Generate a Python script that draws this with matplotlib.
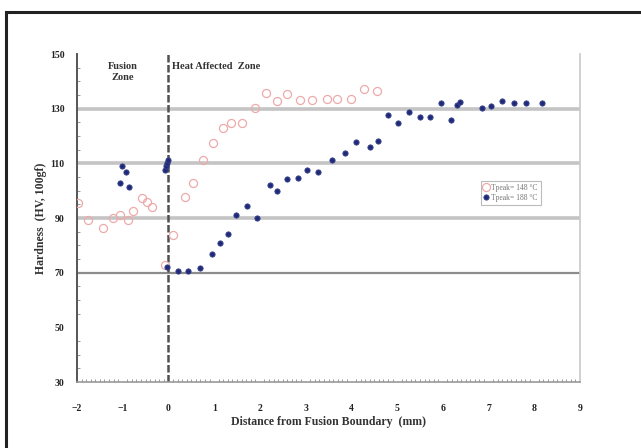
import matplotlib
matplotlib.use("Agg")
import matplotlib.pyplot as plt
from matplotlib.patches import Rectangle
from matplotlib.ticker import MultipleLocator

# --- data ---
red_x = [-1.98, -1.76, -1.43, -1.21, -1.06, -0.89, -0.78, -0.58, -0.47, -0.36,
         -0.08, 0.10, 0.36, 0.53, 0.75, 0.97, 1.19, 1.36, 1.60, 1.89,
         2.13, 2.37, 2.60, 2.87, 3.15, 3.46, 3.68, 4.00, 4.27, 4.55]
red_y = [95.5, 89.3, 86.3, 90.0, 91.1, 89.3, 92.5, 97.3, 95.9, 94.0,
         72.8, 83.8, 97.7, 102.8, 111.2, 117.4, 122.9, 124.8, 124.8, 130.3,
         135.7, 132.8, 135.4, 133.2, 133.2, 133.6, 133.6, 133.6, 137.2, 136.5]

blue_x = [-1.06, -0.86, -1.02, -0.93, -0.08, -0.06, -0.03, -0.01,
          -0.03, 0.21, 0.42, 0.69, 0.95, 1.12, 1.30, 1.47, 1.71, 1.93,
          2.21, 2.37, 2.59, 2.83, 3.02, 3.26, 3.57, 3.87, 4.11, 4.40, 4.59,
          4.81, 5.03, 5.27, 5.51, 5.73, 5.95, 6.17, 6.32, 6.38,
          6.86, 7.06, 7.30, 7.56, 7.83, 8.17]
blue_y = [102.8, 101.3, 109.0, 106.8, 107.6, 109.0, 110.1, 111.2,
          72.1, 70.6, 70.6, 71.7, 76.8, 80.9, 84.2, 91.1, 94.4, 90.0,
          102.1, 99.9, 104.3, 104.6, 107.6, 106.8, 111.2, 113.8, 117.8, 116.0, 118.2,
          127.7, 124.8, 128.8, 127.0, 127.0, 132.1, 125.9, 131.4, 132.5,
          130.3, 131.0, 132.8, 132.1, 132.1, 132.1]

series_labels = ["Tpeak= 148 \u00b0C", "Tpeak= 188 \u00b0C"]
x_ticks = list(range(-2, 10))
y_ticks = list(range(30, 151, 20))
grid_levels = [70, 90, 110, 130]
zone_labels = ["Fusion\nZone", "Heat Affected  Zone"]
x_label = "Distance from Fusion Boundary  (mm)"
y_label = "Hardness  (HV, 100gf)"

serif = ["Liberation Serif", "DejaVu Serif"]

fig = plt.figure(figsize=(6.41, 4.48), dpi=100)
ax = fig.add_axes([77/641, 1-382/448, (580-77)/641, (382-54)/448])

ax.set_xlim(-2, 9)
ax.set_ylim(30, 150)

for g in grid_levels:
    if g == 70:
        ax.axhline(g, color="#8c8c8c", lw=1.6, zorder=1)
    else:
        ax.axhline(g, color="#c4c4c4", lw=2.6, zorder=1)

ax.axvline(0, color="#505050", lw=1.8, ls=(0, (3, 1)), zorder=2)

ax.plot(red_x, red_y, ls="none", marker="o", ms=5.8, mfc="none",
        mec="#eeaaaa", mew=0.9, label=series_labels[0], zorder=3)
ax.plot(blue_x, blue_y, ls="none", marker="o", ms=3.8, mfc="#1f2a78",
        mec="#3a448c", mew=0.6, label=series_labels[1], zorder=4)

ax.set_xticks(x_ticks)
ax.set_yticks(y_ticks)
ax.xaxis.set_minor_locator(MultipleLocator(0.1))
ax.yaxis.set_minor_locator(MultipleLocator(5))
ax.tick_params(axis="both", which="major", length=0, labelsize=7, colors="#222222")
ax.tick_params(axis="x", which="major", pad=16)
ax.tick_params(axis="y", which="major", pad=9)
ax.tick_params(axis="both", which="minor", length=2.5, direction="in", color="#888888")
for lab in ax.get_xticklabels() + ax.get_yticklabels():
    lab.set_family(serif)
    lab.set_fontweight("bold")

ax.spines["top"].set_visible(False)
ax.spines["left"].set_color("#555555")
ax.spines["left"].set_linewidth(1.4)
ax.spines["bottom"].set_color("#9a9a9a")
ax.spines["bottom"].set_linewidth(1.2)
ax.spines["right"].set_color("#c8c8c8")
ax.spines["right"].set_linewidth(1.2)

ax.set_xlabel(x_label, family=serif, fontweight="bold", fontsize=8.5,
              color="#333333", labelpad=2)
ax.set_ylabel(y_label, family=serif, fontweight="bold", fontsize=8.5,
              color="#333333", labelpad=2)

ax.text(-1.0, 143.3, zone_labels[0], ha="center", va="center", family=serif,
        fontweight="bold", fontsize=7.5, color="#333333", linespacing=1.3)
ax.text(0.08, 145.5, zone_labels[1], ha="left", va="center", family=serif,
        fontweight="bold", fontsize=7.5, color="#333333")

leg = ax.legend(loc="upper left", bbox_to_anchor=(0.795, 0.625), frameon=True,
                fancybox=False, edgecolor="#aaaaaa", fontsize=5.5,
                handlelength=0.6, handletextpad=0.4, borderpad=0.4,
                labelspacing=0.3, prop={"family": serif, "size": 5.5})
for t in leg.get_texts():
    t.set_color("#777777")
leg.get_frame().set_linewidth(0.8)

fig.patches.append(Rectangle((6/641, -0.1), 1.2, 1 - 12/448 + 0.1,
                             transform=fig.transFigure, fill=False,
                             ec="#222222", lw=2.2, clip_on=False))

fig.savefig("out.png", dpi=100)
